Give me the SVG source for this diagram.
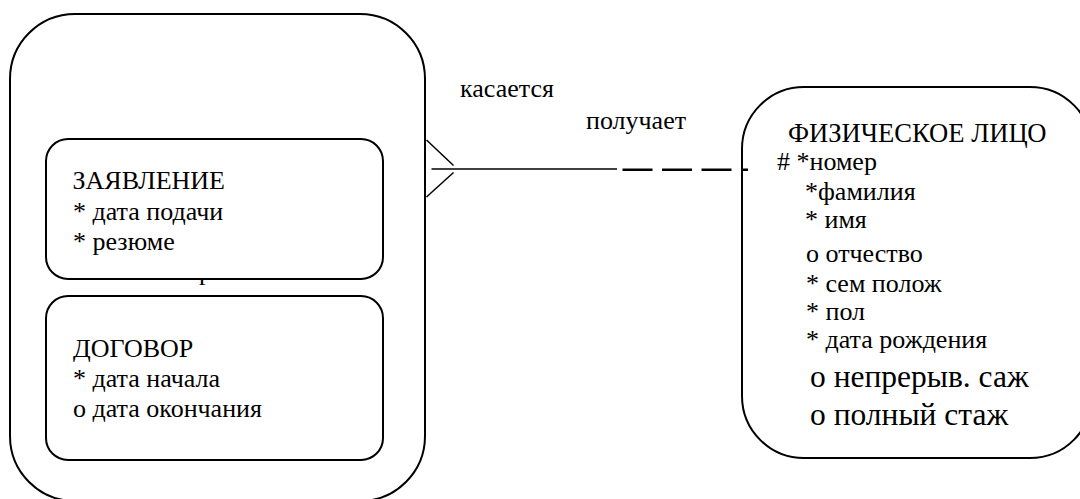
<svg xmlns="http://www.w3.org/2000/svg" width="1080" height="499" viewBox="0 0 1080 499">
<style>
text{font-family:'Liberation Serif','Times New Roman',serif;fill:#000}
.t{font-size:26px}
.h{font-size:26.6px}
.b{font-size:31.5px}
.box{fill:#fff;stroke:#000;stroke-width:2}
.ln{stroke:#000;fill:none}
</style>
<rect width="1080" height="499" fill="#fff"/>
<g id="outer">
<rect class="box" x="10" y="14" width="415" height="487" rx="65" ry="65"/>
</g>
<text class="t" x="199" y="279.5">р</text>
<g id="zayavlenie">
<rect class="box" x="46" y="139" width="337" height="140" rx="22" ry="22"/>
<text class="t" x="72.5" y="189.3">ЗАЯВЛЕНИЕ</text>
<text class="t" x="73" y="220">* дата подачи</text>
<text class="t" x="73" y="250.3">* резюме</text>
</g>
<g id="dogovor">
<rect class="box" x="46" y="296" width="337" height="164" rx="22" ry="22"/>
<text class="t" x="73" y="356.7">ДОГОВОР</text>
<text class="t" x="73" y="386.7">* дата начала</text>
<text class="t" x="73" y="416.7">о дата окончания</text>
</g>
<g id="fizlico">
<rect class="box" x="742" y="87" width="350" height="371" rx="62" ry="62"/>
<text class="h" x="788" y="141.7">ФИЗИЧЕСКОЕ ЛИЦО</text>
<text class="t" x="777" y="170"># *номер</text>
<text class="t" x="805" y="200">*фамилия</text>
<text class="t" x="805" y="228.3">* имя</text>
<text class="t" x="806" y="261.7">о отчество</text>
<text class="t" x="806" y="291.7">* сем полож</text>
<text class="t" x="806" y="320">* пол</text>
<text class="t" x="806" y="348.3">* дата рождения</text>
<text class="b" x="810" y="386.7">о непрерыв. саж</text>
<text class="b" x="810" y="425">о полный стаж</text>
</g>
<g id="connectors">
<line class="ln" x1="426.5" y1="140" x2="453.5" y2="165.5" stroke-width="1.5"/>
<line class="ln" x1="453.5" y1="172.5" x2="426.5" y2="197" stroke-width="1.5"/>
<line class="ln" x1="431.5" y1="169" x2="617" y2="169" stroke-width="1.5"/>
<line class="ln" x1="622.5" y1="169.8" x2="748" y2="169.8" stroke-width="2.6" stroke-dasharray="30 9.5"/>
<text class="t" x="460" y="96.7">касается</text>
<text class="t" x="586" y="129.3">получает</text>
</g>
</svg>
